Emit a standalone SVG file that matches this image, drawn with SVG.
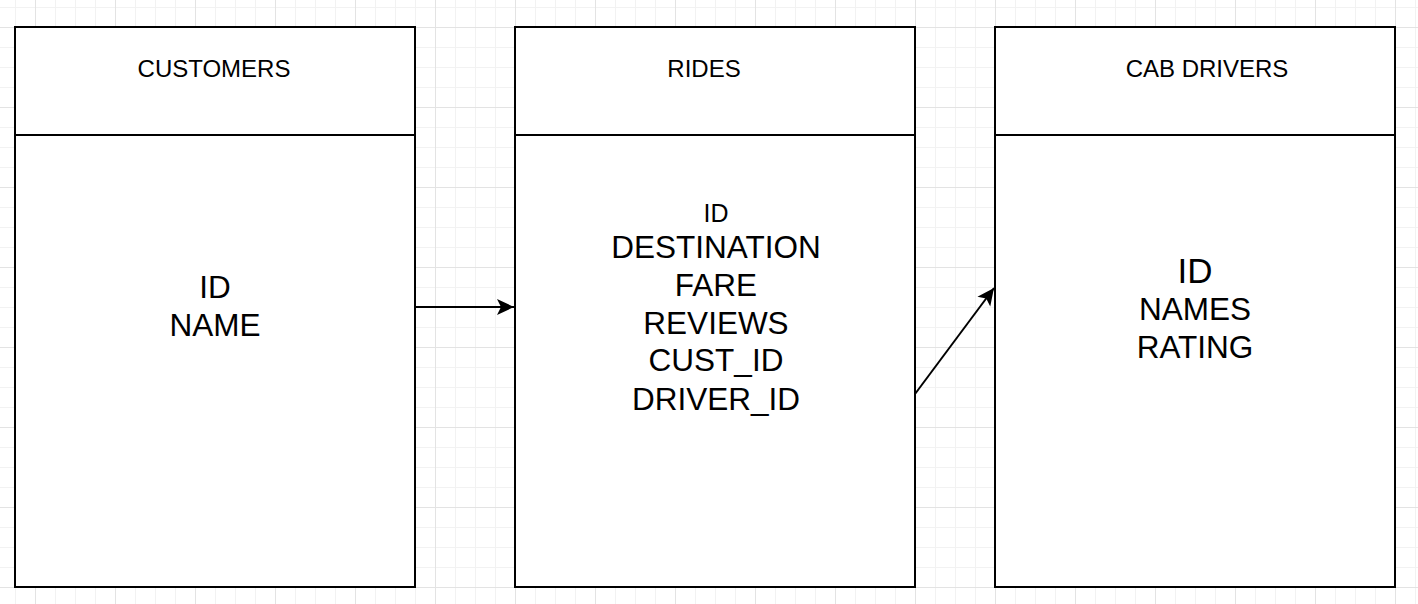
<svg xmlns="http://www.w3.org/2000/svg" width="1418" height="604" viewBox="0 0 1418 604">
<style>
.box{fill:#fff;stroke:#000;stroke-width:2}
.hdr{font-family:"Liberation Sans",Arial,sans-serif;font-size:24px;text-anchor:middle;dominant-baseline:central;fill:#000}
.fld{font-family:"Liberation Sans",Arial,sans-serif;font-size:31.5px;text-anchor:middle;fill:#000}
.edge{stroke:#000;stroke-width:2;fill:none}
</style>
<defs>
<pattern id="minor" x="15" y="7" width="20" height="20" patternUnits="userSpaceOnUse">
<path d="M0 0.5H20M0.5 0V20" stroke="#f2f2f2" stroke-width="1" fill="none"/>
</pattern>
<pattern id="major" x="35" y="27" width="80" height="80" patternUnits="userSpaceOnUse">
<path d="M0 0.5H80M0.5 0V80" stroke="#e3e3e3" stroke-width="1" fill="none"/>
</pattern>
<marker id="arrow" markerUnits="userSpaceOnUse" markerWidth="20" markerHeight="20" refX="17" refY="8" orient="auto" viewBox="0 0 20 16">
<path d="M0 0L17 8L0 16L4 8Z" fill="#000"/>
</marker>
</defs>
<rect width="1418" height="604" fill="#fff"/>
<rect width="1418" height="604" fill="url(#minor)"/>
<rect width="1418" height="604" fill="url(#major)"/>

<g id="customers">
<rect class="box" x="15" y="27" width="400" height="560"/>
<line class="box" x1="15" y1="135" x2="415" y2="135"/>
<text class="hdr" x="214" y="68">CUSTOMERS</text>
<text class="fld" x="215" y="298">ID</text>
<text class="fld" x="215" y="336">NAME</text>
</g>

<g id="rides">
<rect class="box" x="515" y="27" width="400" height="560"/>
<line class="box" x1="515" y1="135" x2="915" y2="135"/>
<text class="hdr" x="704" y="68">RIDES</text>
<text class="fld" x="716" y="222" style="font-size:25px">ID</text>
<text class="fld" x="716" y="258">DESTINATION</text>
<text class="fld" x="716" y="296">FARE</text>
<text class="fld" x="716" y="334">REVIEWS</text>
<text class="fld" x="716" y="371">CUST_ID</text>
<text class="fld" x="716" y="410">DRIVER_ID</text>
</g>

<g id="cab-drivers">
<rect class="box" x="995" y="27" width="400" height="560"/>
<line class="box" x1="995" y1="135" x2="1395" y2="135"/>
<text class="hdr" x="1207" y="68">CAB DRIVERS</text>
<text class="fld" x="1195" y="283" style="font-size:35px">ID</text>
<text class="fld" x="1195" y="320">NAMES</text>
<text class="fld" x="1195" y="358">RATING</text>
</g>

<g id="connectors">
<line class="edge" x1="415" y1="307" x2="514" y2="307" marker-end="url(#arrow)"/>
<line class="edge" x1="915" y1="394" x2="994" y2="288" marker-end="url(#arrow)"/>
</g>
</svg>
